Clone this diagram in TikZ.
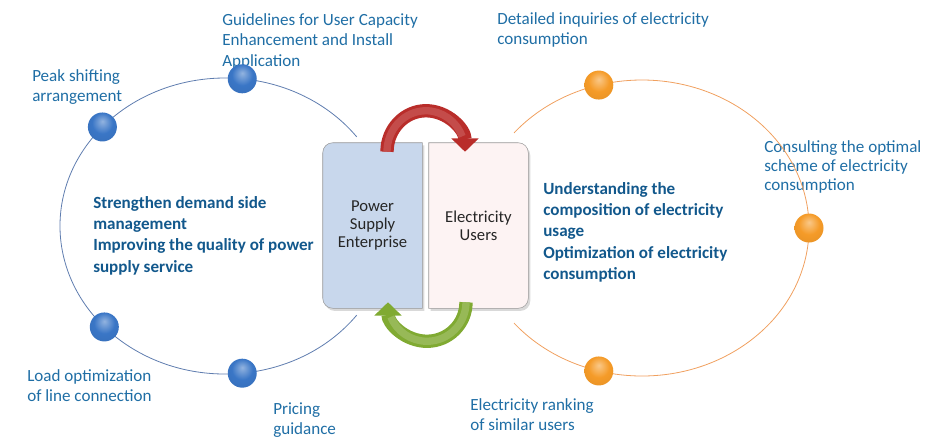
\documentclass[tikz,border=0pt]{standalone}
\usepackage{fontspec}
\setmainfont{Carlito}
\usetikzlibrary{arrows.meta, calc, backgrounds, shadows}

\definecolor{labelblue}{RGB}{31,110,165}
\definecolor{boldblue}{RGB}{18,88,140}
\definecolor{psufill}{RGB}{200,215,236}
\definecolor{userfill}{RGB}{253,243,243}
\definecolor{ringblue}{RGB}{95,125,175}
\definecolor{ringorange}{RGB}{240,160,95}
\definecolor{dotblue}{RGB}{58,118,198}
\definecolor{dotorange}{RGB}{245,155,40}
\definecolor{arrowred}{RGB}{185,45,42}
\definecolor{arrowgreen}{RGB}{128,170,50}

\pgfdeclareradialshading{blueball}{\pgfpoint{0bp}{10bp}}{color(0bp)=(dotblue!55!white); color(18bp)=(dotblue); color(40bp)=(dotblue!92!black); color(55bp)=(dotblue!60!black)}
\pgfdeclareradialshading{orangeball}{\pgfpoint{0bp}{10bp}}{color(0bp)=(dotorange!55!white); color(18bp)=(dotorange); color(40bp)=(dotorange!92!black); color(55bp)=(dotorange!65!black)}

\begin{document}
\begin{tikzpicture}[x=0.75pt, y=-0.75pt,
    lbl/.style={anchor=north west, inner sep=0pt, align=left, text=labelblue,
      font=\fontsize{12.8}{15.5}\selectfont},
    keytext/.style={anchor=north west, inner sep=0pt, align=left, text=boldblue,
      font=\fontsize{12.8}{16}\selectfont\bfseries},
    boxtext/.style={inner sep=0pt, minimum width=74.25pt, minimum height=123.75pt,
      align=center, text=black!85, font=\fontsize{12.5}{13.5}\selectfont},
    dot/.style={circle, minimum size=21.75pt, inner sep=0pt},
    turn/.style={line width=10pt, -{Triangle[width=20pt, length=10pt]}},
    boxshadow/.style={drop shadow={shadow xshift=1.5pt, shadow yshift=-2pt, opacity=0.3}}
  ]
    \useasboundingbox (0,0) rectangle (930,447);

    \node[lbl] (peak) at (32,69) {Peak shifting\\arrangement};
    \node[lbl] (guide) at (222,13) {Guidelines for User Capacity\\Enhancement  and Install\\Application};
    \node[lbl] (load) at (27,369) {Load optimization\\of line connection};
    \node[lbl] (pricing) at (273,402) {Pricing\\guidance};
    \node[lbl] (detail) at (497,12) {Detailed inquiries of electricity\\consumption};
    \node[lbl, font=\fontsize{12.8}{14.5}\selectfont] (consult) at (764,140) {Consulting the optimal\\scheme of electricity\\consumption};
    \node[lbl] (ranking) at (470,398) {Electricity ranking\\of similar users};
    \node[keytext] (demand) at (93,196) {Strengthen demand side\\management\\Improving the quality of power\\supply service};
    \node[keytext] (usage) at (543,182) {Understanding the\\composition of electricity\\usage\\Optimization of electricity\\consumption};

    \coordinate (lc) at (225,226);
    \coordinate (rc) at (642,228);
    \draw[ringblue, line width=0.6pt] (lc) ++(37:165 and 148) arc[start angle=37, end angle=323, x radius=165, y radius=148];
    \draw[ringorange, line width=0.6pt] (rc) ++(140:167 and 148) arc[start angle=140, end angle=-140, x radius=167, y radius=148];

    \node[dot, shading=blueball] (guidedot) at ($(lc)+(276:165 and 148)$) {};
    \node[dot, shading=blueball] (peakdot) at ($(lc)+(222:165 and 148)$) {};
    \node[dot, shading=blueball] (loaddot) at ($(lc)+(137:165 and 148)$) {};
    \node[dot, shading=blueball] (pricingdot) at ($(lc)+(84:165 and 148)$) {};
    \node[dot, shading=orangeball] (detaildot) at ($(rc)+(255:167 and 148)$) {};
    \node[dot, shading=orangeball] (consultdot) at ($(rc)+(0:167 and 148)$) {};
    \node[dot, shading=orangeball] (rankingdot) at ($(rc)+(105:167 and 148)$) {};

    \node[boxtext] (psu) at (372.5,225.5) {Power\\Supply\\Enterprise};
    \node[boxtext] (users) at (478.5,225.5) {Electricity\\Users};

    \begin{scope}[on background layer]
      \fill[psufill, draw=black!40, boxshadow] (psu.north east) -- ($(psu.north west)+(10,0)$)
        arc[start angle=270, end angle=180, radius=10] -- ($(psu.south west)+(0,-10)$)
        arc[start angle=180, end angle=90, radius=10] -- (psu.south east) -- cycle;
      \fill[userfill, draw=black!40, boxshadow] (users.north west) -- ($(users.north east)+(-10,0)$)
        arc[start angle=270, end angle=360, radius=10] -- ($(users.south east)+(0,-10)$)
        arc[start angle=0, end angle=90, radius=10] -- (users.south west) -- cycle;
    \end{scope}

    \draw[turn, arrowred] ($(psu.north)+(14.5,9)$) arc[start angle=180, end angle=360, x radius=39, y radius=41];
    \draw[arrowred!85!white, line width=5.5pt] ($(psu.north)+(14.5,9)$) arc[start angle=180, end angle=338, x radius=39, y radius=41];
    \draw[turn, arrowgreen] ($(users.south)+(-12.5,-6)$) arc[start angle=0, end angle=180, x radius=39, y radius=39];
    \draw[arrowgreen!82!white, line width=5.5pt] ($(users.south)+(-12.5,-6)$) arc[start angle=0, end angle=158, x radius=39, y radius=39];
  \end{tikzpicture}
\end{document}
